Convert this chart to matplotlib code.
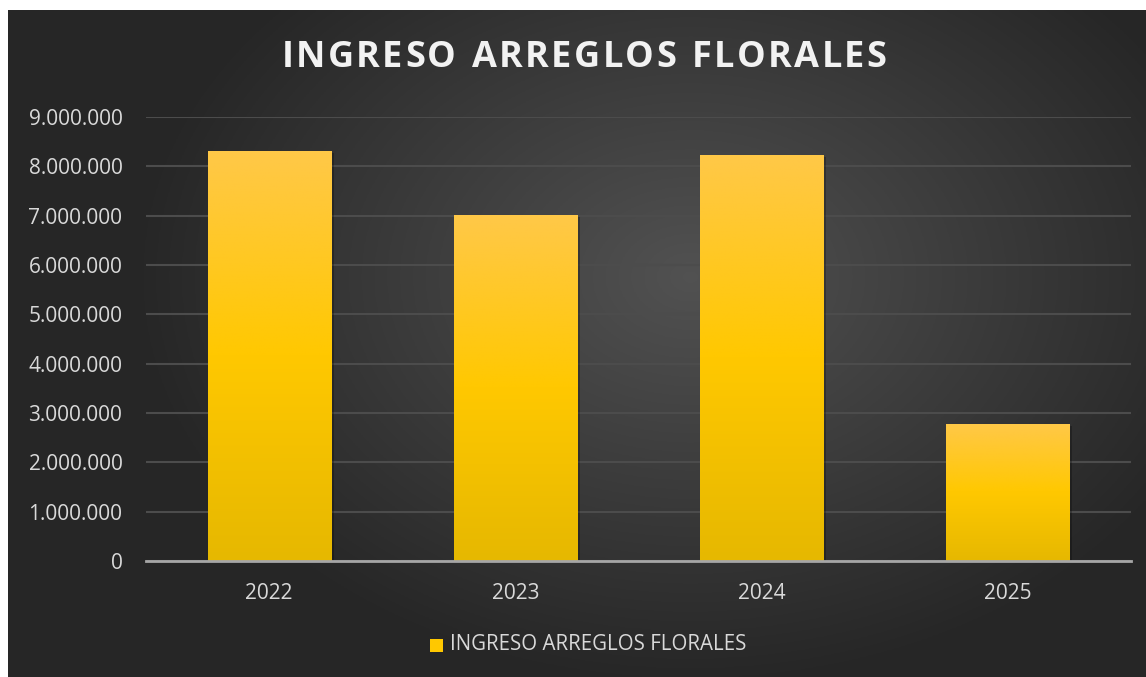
import numpy as np
import matplotlib
import matplotlib.pyplot as plt
from matplotlib.ticker import FuncFormatter
from matplotlib.patches import Rectangle

matplotlib.use('Agg')

# Datos del gráfico
years = ['2022', '2023', '2024', '2025']
ingresos = [8310000, 7010000, 8230000, 2780000]
y_ticks = [0, 1000000, 2000000, 3000000, 4000000, 5000000, 6000000, 7000000, 8000000, 9000000]
title = 'INGRESO ARREGLOS FLORALES'

plt.rcParams['font.family'] = ['Open Sans', 'DejaVu Sans']
W, H = 1146, 677
fig = plt.figure(figsize=(W / 100, H / 100), dpi=100, facecolor='white')

# Fondo oscuro con degradado radial (deja un margen blanco arriba e izquierda)
bg = fig.add_axes([8 / W, 0, 1 - 8 / W, 1 - 10 / H])
bg.set_axis_off()
gx, gy = np.meshgrid(np.linspace(0, 1, 400), np.linspace(0, 1, 300))
dist = np.sqrt(((gx - 0.6) * 1.0) ** 2 + ((gy - 0.6) * 0.8) ** 2)
shade = np.clip(0.32 - 0.26 * dist / 0.75, 0.15, 0.32)
bg.imshow(np.dstack([shade] * 3), aspect='auto', extent=[0, 1, 0, 1], origin='lower', zorder=0)
bg.set_xlim(0, 1)
bg.set_ylim(0, 1)

ax = fig.add_axes([146 / W, 1 - 561 / H, (1131 - 146) / W, (561 - 117) / H])
ax.patch.set_alpha(0)
x = np.arange(len(years))
bars = ax.bar(x, ingresos, width=0.5, color='#ffc800', zorder=3)

# Degradado vertical dentro de cada barra
grad = np.linspace(0, 1, 256)
cols = np.array([[0xe6, 0xb8, 0x00], [0xff, 0xc8, 0x00], [0xff, 0xc8, 0x48]]) / 255
img = np.zeros((256, 1, 3))
for c in range(3):
    img[:, 0, c] = np.interp(grad, [0, 0.5, 1], cols[:, c])
for b in bars:
    # sombra ligera
    sh = Rectangle((b.get_x() + 0.012, 0), b.get_width(), b.get_height() - 40000,
                   color='black', alpha=0.25, zorder=2, lw=0)
    ax.add_patch(sh)
    im = ax.imshow(img, aspect='auto', origin='lower', zorder=4,
                   extent=[b.get_x(), b.get_x() + b.get_width(), 0, b.get_height()])
    im.set_clip_path(b)

ax.set_xlim(-0.5, len(years) - 0.5)
ax.set_ylim(0, 9000000)
ax.set_yticks(y_ticks)
ax.yaxis.set_major_formatter(FuncFormatter(lambda v, p: f'{int(v):,}'.replace(',', '.')))
ax.set_xticks(x)
ax.set_xticklabels(years)
ax.grid(axis='y', color='#4c4c4c', linewidth=1.5, zorder=1)
ax.set_axisbelow(True)
for s in ['top', 'right', 'left']:
    ax.spines[s].set_visible(False)
ax.spines['bottom'].set_color('#a6a6a6')
ax.spines['bottom'].set_linewidth(2)
ax.spines['bottom'].set_zorder(5)
ax.tick_params(axis='both', length=0, colors='#d9d9d9', labelsize=15)
ax.tick_params(axis='y', pad=17)
ax.tick_params(axis='x', pad=16)

# Título con espaciado entre letras
renderer = fig.canvas.get_renderer()
t_size = 26
spacing = 2.4  # px extra por letra
widths = []
for ch in title:
    t = fig.text(0, 0, ch if ch != ' ' else 'I', fontsize=t_size, fontweight='bold')
    w = t.get_window_extent(renderer).width
    if ch == ' ':
        w = w * 0.9
    widths.append(w)
    t.remove()
total = sum(widths) + spacing * (len(title) - 1)
xpos = 584 - total / 2
for ch, w in zip(title, widths):
    if ch != ' ':
        fig.text(xpos / W, 1 - 58 / H, ch, ha='left', va='center', color='#f2f2f2',
                 fontsize=t_size, fontweight='bold')
    xpos += w + spacing

# Leyenda
fig.patches.append(Rectangle((430 / W, 1 - 652 / H), 13 / W, 13 / H, transform=fig.transFigure,
                             facecolor='#ffc800', edgecolor='none', figure=fig))
fig.text(450 / W, 1 - 645 / H, 'INGRESO ARREGLOS FLORALES', ha='left', va='center',
         color='#d9d9d9', fontsize=14.8)

fig.savefig('out.png', dpi=100, facecolor='white')
